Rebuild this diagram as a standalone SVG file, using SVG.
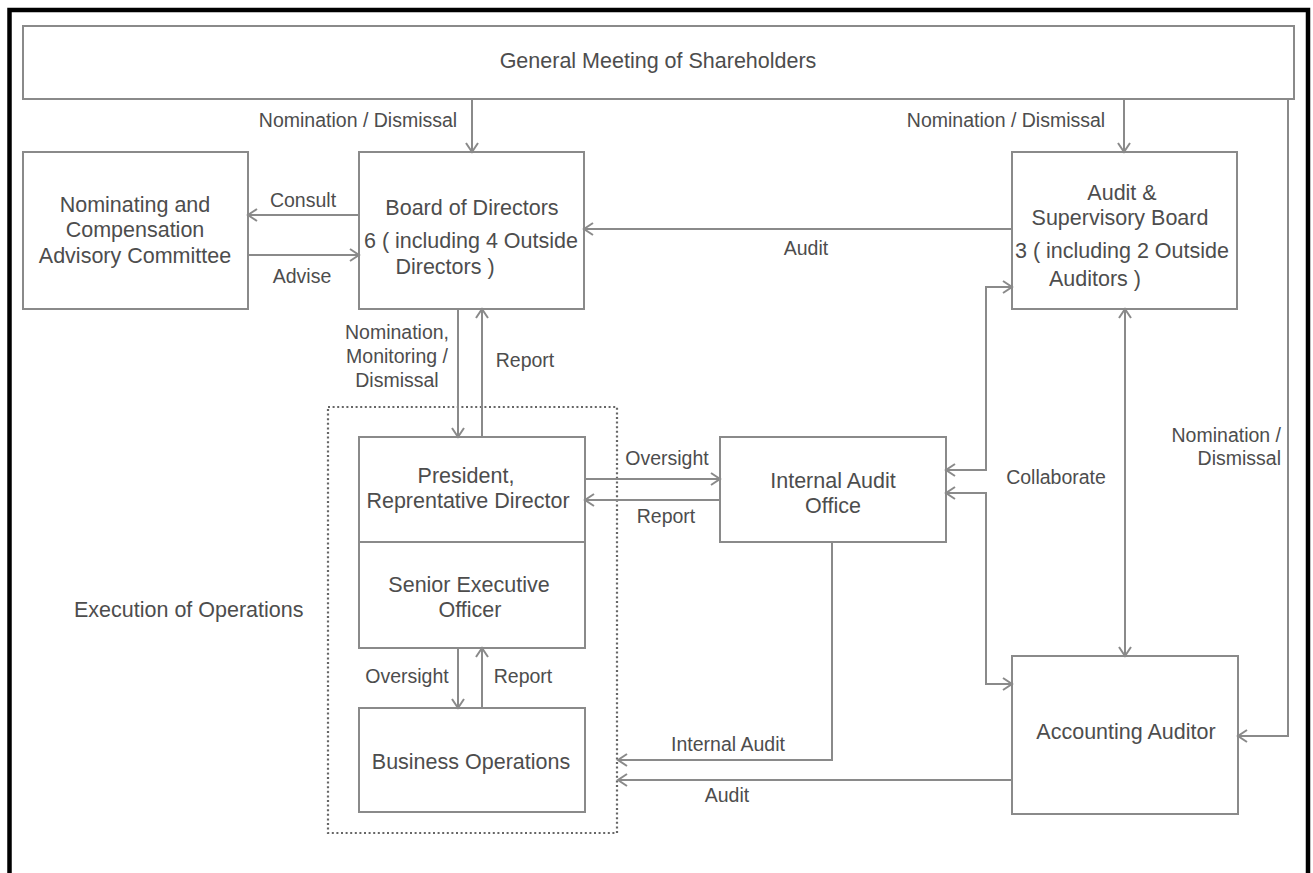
<svg xmlns="http://www.w3.org/2000/svg" width="1313" height="873" viewBox="0 0 1313 873">
<style>
.box{fill:#fff;stroke:#8a8a8a;stroke-width:2}
.nt{font-family:"Liberation Sans",Arial,sans-serif;font-size:21.5px;fill:#4d4d4d;text-anchor:middle}
.lb{font-family:"Liberation Sans",Arial,sans-serif;font-size:19.5px;fill:#4d4d4d;text-anchor:middle}
.c{fill:none;stroke:#8a8a8a;stroke-width:2}
.a{marker-end:url(#ah)}
.b{marker-start:url(#ah);marker-end:url(#ah)}
</style>
<defs>
<marker id="ah" viewBox="-11 -8 13 16" markerWidth="13" markerHeight="16" refX="0" refY="0" orient="auto-start-reverse" markerUnits="userSpaceOnUse">
<path d="M-9,-6 L0,0 L-9,6" fill="none" stroke="#8a8a8a" stroke-width="2"/>
</marker>
</defs>
<rect width="1313" height="873" fill="#fff"/>
<path d="M9.5,873 V10 H1308 V873" fill="none" stroke="#000" stroke-width="4.5"/>
<g id="exec-group">
<rect x="328" y="407" width="289" height="426" fill="none" stroke="#666" stroke-width="2.2" stroke-dasharray="2,2.6"/>
<text class="nt" x="74" y="617" style="text-anchor:start">Execution of Operations</text>
</g>
<g id="gm"><rect class="box" x="23" y="26" width="1271" height="73"/><text class="nt" x="658" y="68">General Meeting of Shareholders</text></g>
<g id="nominating"><rect class="box" x="23" y="152" width="225" height="157"/>
<text class="nt" x="135" y="212">Nominating and</text><text class="nt" x="135" y="237">Compensation</text><text class="nt" x="135" y="263">Advisory Committee</text></g>
<g id="board"><rect class="box" x="359" y="152" width="225" height="157"/>
<text class="nt" x="472" y="215">Board of Directors</text><text class="nt" x="471" y="248">6 ( including 4 Outside</text><text class="nt" x="445" y="274">Directors )</text></g>
<g id="auditboard"><rect class="box" x="1012" y="152" width="225" height="157"/>
<text class="nt" x="1122" y="200">Audit &amp;</text><text class="nt" x="1120" y="225">Supervisory Board</text><text class="nt" x="1122" y="258">3 ( including 2 Outside</text><text class="nt" x="1095" y="286">Auditors )</text></g>
<g id="president"><rect class="box" x="359" y="437" width="226" height="105"/>
<text class="nt" x="466" y="483">President,</text><text class="nt" x="468" y="508">Reprentative Director</text></g>
<g id="senior"><rect class="box" x="359" y="542" width="226" height="106"/>
<text class="nt" x="469" y="592">Senior Executive</text><text class="nt" x="470" y="617">Officer</text></g>
<g id="business"><rect class="box" x="359" y="708" width="226" height="104"/>
<text class="nt" x="471" y="769">Business Operations</text></g>
<g id="internal"><rect class="box" x="720" y="437" width="226" height="105"/>
<text class="nt" x="833" y="488">Internal Audit</text><text class="nt" x="833" y="513">Office</text></g>
<g id="accounting"><rect class="box" x="1012" y="656" width="226" height="158"/>
<text class="nt" x="1126" y="739">Accounting Auditor</text></g>
<g id="connectors">
<path class="c a" d="M472,99 V152"/>
<path class="c a" d="M1124,99 V152"/>
<path class="c a" d="M359,215 H248"/>
<path class="c a" d="M248,255 H359"/>
<path class="c a" d="M1012,229 H584"/>
<path class="c a" d="M458,309 V437"/>
<path class="c a" d="M482,437 V309"/>
<path class="c a" d="M585,479 H720"/>
<path class="c a" d="M720,500 H585"/>
<path class="c a" d="M458,648 V708"/>
<path class="c a" d="M482,708 V648"/>
<path class="c a" d="M832,542 V760 H618"/>
<path class="c a" d="M1012,780 H618"/>
<path class="c b" d="M946,470 H986 V287 H1012"/>
<path class="c b" d="M946,493 H986 V684 H1012"/>
<path class="c b" d="M1125,309 V656"/>
<path class="c a" d="M1288,99 V736 H1238"/>
<text class="lb" x="358" y="127">Nomination / Dismissal</text>
<text class="lb" x="1006" y="127">Nomination / Dismissal</text>
<text class="lb" x="303" y="207">Consult</text>
<text class="lb" x="302" y="283">Advise</text>
<text class="lb" x="806" y="255">Audit</text>
<text class="lb" x="397" y="339">Nomination,</text>
<text class="lb" x="397" y="363">Monitoring /</text>
<text class="lb" x="397" y="387">Dismissal</text>
<text class="lb" x="525" y="367">Report</text>
<text class="lb" x="667" y="465">Oversight</text>
<text class="lb" x="666" y="523">Report</text>
<text class="lb" x="1056" y="484">Collaborate</text>
<text class="lb" x="1281" y="442" style="text-anchor:end">Nomination /</text>
<text class="lb" x="1281" y="465" style="text-anchor:end">Dismissal</text>
<text class="lb" x="407" y="683">Oversight</text>
<text class="lb" x="523" y="683">Report</text>
<text class="lb" x="728" y="751">Internal Audit</text>
<text class="lb" x="727" y="802">Audit</text>
</g>
</svg>
